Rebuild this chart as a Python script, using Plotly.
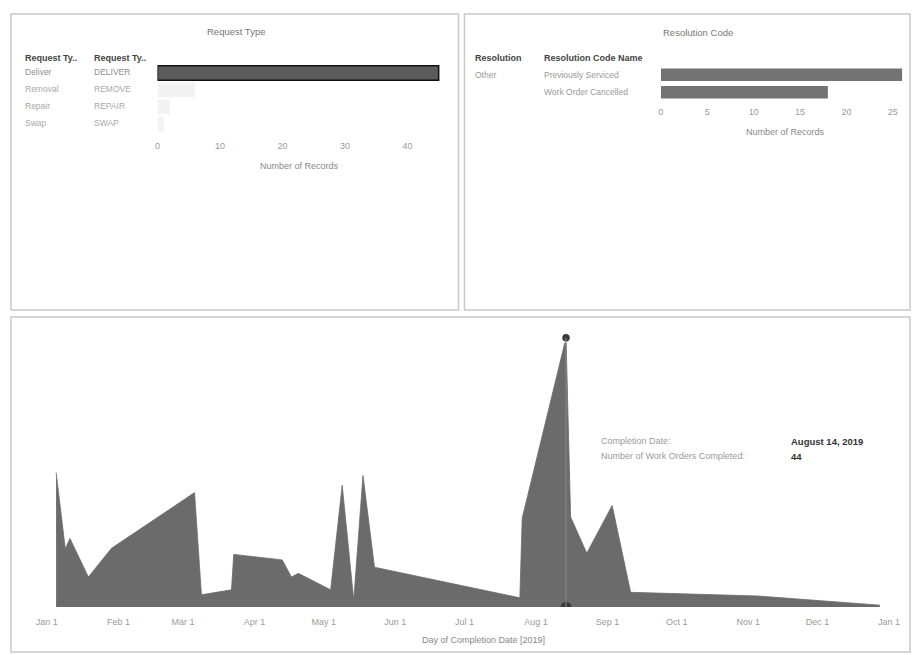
import plotly.graph_objects as go
import pandas as pd

W, H = 912, 655

# ---------------- data ----------------
request_type = ["Deliver", "Removal", "Repair", "Swap"]
request_type_code = ["DELIVER", "REMOVE", "REPAIR", "SWAP"]
request_records = [45, 6, 2, 1]

resolution = ["Other"]
resolution_code_name = ["Previously Serviced", "Work Order Cancelled"]
resolution_records = [26, 18]

completion_dates = [
    "2019-01-05", "2019-01-09", "2019-01-11", "2019-01-19", "2019-01-29",
    "2019-03-06", "2019-03-09", "2019-03-22", "2019-03-23", "2019-04-13",
    "2019-04-17", "2019-04-20", "2019-05-04", "2019-05-09", "2019-05-14",
    "2019-05-18", "2019-05-23", "2019-07-25", "2019-07-26", "2019-08-14",
    "2019-08-16", "2019-08-23", "2019-09-03", "2019-09-11", "2019-11-05",
    "2019-12-28",
]
work_orders_completed = [
    22, 9.5, 11.2, 4.9, 9.6,
    18.7, 2.0, 2.8, 8.6, 7.7,
    4.9, 5.5, 2.8, 19.9, 1.1,
    21.5, 6.5, 1.5, 14.5, 44,
    14.7, 8.8, 16.6, 2.4, 1.8,
    0.3,
]

month_tick_dates = [
    "2019-01-01", "2019-02-01", "2019-03-01", "2019-04-01", "2019-05-01",
    "2019-06-01", "2019-07-01", "2019-08-01", "2019-09-01", "2019-10-01",
    "2019-11-01", "2019-12-01", "2020-01-01",
]
month_tick_labels = ["Jan 1", "Feb 1", "Mar 1", "Apr 1", "May 1", "Jun 1", "Jul 1",
                     "Aug 1", "Sep 1", "Oct 1", "Nov 1", "Dec 1", "Jan 1"]

request_ticks = [0, 10, 20, 30, 40]
resolution_ticks = [0, 5, 10, 15, 20, 25]

# ---------------- helpers ----------------
FONT = "Liberation Sans, Arial, sans-serif"


def xp(px):
    return px / W


def yp(py):
    return 1 - py / H


fig = go.Figure()

# Request type bars (DELIVER highlighted, others dimmed)
bar_colors = ["#5b5b5b" if i == 0 else "#f3f3f3" for i in range(len(request_records))]
bar_lines = ["#111111" if i == 0 else "rgba(0,0,0,0)" for i in range(len(request_records))]
fig.add_trace(go.Bar(
    x=request_records, y=request_type_code, orientation="h",
    marker=dict(color=bar_colors, line=dict(color=bar_lines, width=1.5)),
    xaxis="x", yaxis="y", hoverinfo="skip",
))

# Resolution code bars
fig.add_trace(go.Bar(
    x=resolution_records, y=resolution_code_name, orientation="h",
    marker=dict(color="#737373", line=dict(width=0)),
    xaxis="x2", yaxis="y2", hoverinfo="skip", width=0.72,
))

# Area chart
fig.add_trace(go.Scatter(
    x=pd.to_datetime(completion_dates), y=work_orders_completed,
    mode="lines", fill="tozeroy", fillcolor="#6b6b6b",
    line=dict(color="#6b6b6b", width=0.8),
    xaxis="x3", yaxis="y3", hoverinfo="skip",
))

peak_i = max(range(len(work_orders_completed)), key=lambda i: work_orders_completed[i])
peak_date = pd.to_datetime(completion_dates[peak_i])
peak_val = work_orders_completed[peak_i]

# hover reference line and markers
fig.add_shape(type="line", xref="x3", yref="y3", x0=peak_date, x1=peak_date,
              y0=0, y1=peak_val, line=dict(color="#8a8a8a", width=1))
fig.add_trace(go.Scatter(
    x=[peak_date, peak_date], y=[peak_val, 0], mode="markers",
    marker=dict(size=9, color="#3a3a3a", line=dict(color=["white", "#3a3a3a"], width=1.5)),
    xaxis="x3", yaxis="y3", cliponaxis=True, hoverinfo="skip",
))

# bottom axis range (pixel calibration)
jan1 = pd.Timestamp("2019-01-01")
px_per_day = 2.315
x0_px, x1_px = 30, 900
x3_range = [jan1 + pd.Timedelta(days=(x0_px - 44) / px_per_day),
            jan1 + pd.Timedelta(days=(x1_px - 44) / px_per_day)]

tickfont = dict(family=FONT, size=9, color="#9a9a9a")

fig.update_layout(
    width=W, height=H, margin=dict(l=0, r=0, t=0, b=0),
    paper_bgcolor="white", plot_bgcolor="white", showlegend=False,
    bargap=0.15,
    font=dict(family=FONT),
    xaxis=dict(domain=[xp(155), xp(439)], range=[0, 45.3], tickvals=request_ticks,
               showgrid=False, zeroline=False, showline=False, ticks="",
               tickfont=tickfont, ticklabelstandoff=6, anchor="y", fixedrange=True),
    yaxis=dict(domain=[yp(132.5), yp(64.5)], type="category",
               categoryarray=request_type_code, autorange="reversed",
               showticklabels=False, showgrid=False, zeroline=False, anchor="x"),
    xaxis2=dict(domain=[xp(660), xp(903)], range=[0, 26.1], tickvals=resolution_ticks,
                showgrid=False, zeroline=False, showline=False, ticks="",
                tickfont=tickfont, ticklabelstandoff=4, anchor="y2"),
    yaxis2=dict(domain=[yp(101), yp(66)], type="category",
                categoryarray=resolution_code_name, autorange="reversed",
                showticklabels=False, showgrid=False, zeroline=False, anchor="x2"),
    xaxis3=dict(domain=[xp(x0_px), xp(x1_px)], type="date", range=x3_range,
                tickvals=pd.to_datetime(month_tick_dates), ticktext=month_tick_labels,
                showgrid=False, zeroline=False, showline=False, ticks="",
                tickfont=tickfont, ticklabelstandoff=8, anchor="y3"),
    yaxis3=dict(domain=[yp(607), yp(325)], range=[0, 46.1], showticklabels=False,
                showgrid=False, zeroline=False, showline=False, anchor="x3"),
)

# ---------------- panel borders ----------------
border = dict(color="#c9c9c9", width=1.5)
for (l, t, r, b) in [(8, 14, 457, 310), (463, 14, 910, 310), (8, 317, 910, 652)]:
    fig.add_shape(type="rect", xref="paper", yref="paper",
                  x0=xp(l), x1=xp(r), y0=yp(b), y1=yp(t), line=border, layer="below")

ann = []


def text(x, y, s, size=9, color="#999999", bold=False, xanchor="left", yref="paper", yshift=0):
    ann.append(dict(x=x, y=y, xref="paper", yref=yref, text=f"<b>{s}</b>" if bold else s,
                    showarrow=False, xanchor=xanchor, yanchor="middle", yshift=yshift,
                    font=dict(family=FONT, size=size, color=color)))


# titles
text(xp(234), yp(32), "Request Type", size=9.5, color="#777777", xanchor="center")
text(xp(697), yp(33), "Resolution Code", size=9.5, color="#777777", xanchor="center")

# request type headers and rows
text(xp(20), yp(58), "Request Ty..", size=9, color="#444444", bold=True)
text(xp(89), yp(58), "Request Ty..", size=9, color="#444444", bold=True)
for i, (a, b) in enumerate(zip(request_type, request_type_code)):
    col = "#8f8f8f" if i == 0 else "#a8a8a8"
    text(xp(20), b, a, size=8.5, color=col, yref="y", yshift=1.5)
    text(xp(89), b, b, size=8.5, color=col, yref="y", yshift=1.5)
text(xp(297), yp(166), "Number of Records", size=9, color="#888888", xanchor="center")

# resolution headers and rows
text(xp(472), yp(58), "Resolution", size=9, color="#444444", bold=True)
text(xp(541), yp(58), "Resolution Code Name", size=9, color="#444444", bold=True)
text(xp(472), resolution_code_name[0], resolution[0], size=8.5, color="#999999", yref="y2")
for nm in resolution_code_name:
    text(xp(541), nm, nm, size=8.5, color="#999999", yref="y2")
text(xp(785), yp(132), "Number of Records", size=9, color="#888888", xanchor="center")

# bottom axis title
text(xp(482), yp(640), "Day of Completion Date [2019]", size=9, color="#888888", xanchor="center")

# tooltip
text(xp(598), yp(441), "Completion Date:", size=9, color="#9a9a9a")
text(xp(789), yp(441), f"{peak_date.strftime('%B')} {peak_date.day}, {peak_date.year}",
     size=9.5, color="#333333", bold=True)
text(xp(598), yp(456), "Number of Work Orders Completed:", size=9, color="#9a9a9a")
text(xp(789), yp(456), f"{peak_val:g}", size=9.5, color="#333333", bold=True)

fig.update_layout(annotations=ann)

fig.write_html("out.html", config={"displayModeBar": False},
               post_script="document.body.style.margin='0';")
